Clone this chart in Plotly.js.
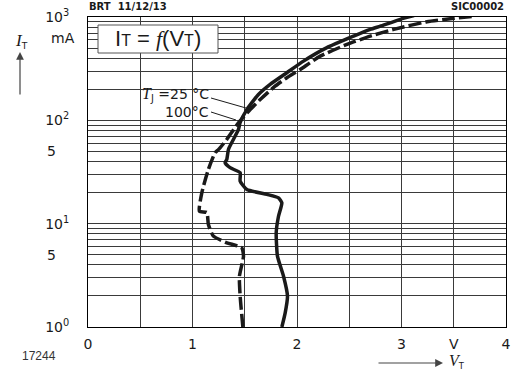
<!DOCTYPE html>
<html>
<head>
<meta charset="utf-8">
<script src="https://cdn.plot.ly/plotly-3.0.1.min.js"></script>
<style>
  html, body { margin: 0; padding: 0; background: #fff; }
  #myChart { width: 513px; height: 371px; }
</style>
</head>
<body>
<div id="myChart"></div>
<script>
// forward characteristic, Tj = 25 °C (solid)
const vt25 = [1.855, 1.887, 1.909, 1.871, 1.813, 1.801, 1.823, 1.855, 1.823, 1.712, 1.52, 1.456, 1.456, 1.36, 1.312, 1.328, 1.344, 1.376, 1.44, 1.456, 1.52, 1.631, 1.743, 1.903, 2.062, 2.286, 2.541, 2.701, 2.797, 2.989, 3.12];
const it25 = [1.0, 1.37, 1.99, 3.1, 4.85, 8.17, 11.8, 15.9, 17.8, 19.2, 21.4, 25.8, 31.1, 34.8, 38.9, 41.8, 52.3, 61, 81.6, 95.4, 127, 178, 223, 289, 374, 505, 653, 759, 816, 950, 1030];

// Tj = 100 °C (dashed)
const vt100 = [1.482, 1.456, 1.449, 1.488, 1.472, 1.329, 1.2, 1.152, 1.137, 1.066, 1.089, 1.152, 1.216, 1.25, 1.328, 1.44, 1.552, 1.648, 1.79, 1.903, 2.031, 2.222, 2.478, 2.701, 2.925, 3.244, 3.467, 3.7];
const it100 = [1.0, 1.99, 3.1, 4.85, 5.84, 6.53, 7.57, 9.8, 12.8, 13.2, 19.9, 33.5, 48.6, 52.3, 65.3, 94.8, 127, 159, 214, 258, 311, 418, 543, 653, 759, 900, 960, 1020];

const xTicks = [0, 0.5, 1, 1.5, 2, 2.5, 3, 3.5, 4];
const xLabels = ['0', '', '1', '', '2', '', '3', 'V', '4'];

const yTicks = [1, 2, 3, 4, 5, 6, 7, 8, 9, 10, 20, 30, 40, 50, 60, 70, 80, 90, 100, 200, 300, 400, 500, 600, 700, 800, 900, 1000];
const yLabels = yTicks.map(v => {
	if (v === 1) return '10<sup>0</sup>';
	if (v === 10) return '10<sup>1</sup>';
	if (v === 100) return '10<sup>2</sup>';
	if (v === 1000) return '10<sup>3</sup>';
	if (v === 5 || v === 50) return '5&nbsp;&nbsp;&nbsp;';
	return ' ';
});

// pixel -> paper helpers for the decorations
const px = x => (x - 88) / 418;
const py = y => (327 - y) / 310;

const INK = '#1a1a1a';
const SANS = 'DejaVu Sans, sans-serif';

function label(x, y, text, opts = {}) {
	return Object.assign({
		xref: 'paper', yref: 'paper', x: px(x), y: py(y),
		xanchor: 'center', yanchor: 'middle', showarrow: false, text: text,
		font: { family: SANS, size: 14, color: INK }
	}, opts);
}

const trace25 = {
	x: vt25,
	y: it25,
	name: '25 °C',
	type: 'scatter',
	mode: 'lines',
	line: { color: INK, width: 3.5, shape: 'spline', smoothing: 0.5 }
};

const trace100 = {
	x: vt100,
	y: it100,
	name: '100 °C',
	type: 'scatter',
	mode: 'lines',
	line: { color: INK, width: 3.5, dash: '13px,4px', shape: 'spline', smoothing: 0.5 }
};

const layout = {
	width: 513,
	height: 371,
	margin: { l: 88, r: 7, t: 17, b: 44 },
	paper_bgcolor: '#fff',
	plot_bgcolor: '#fff',
	showlegend: false,
	font: { family: SANS, size: 14, color: INK },
	xaxis: {
		range: [0, 4],
		tickvals: xTicks,
		ticktext: xLabels,
		ticks: '',
		showgrid: true,
		gridcolor: '#3a3a3a',
		gridwidth: 1,
		zeroline: false,
		showline: true,
		linecolor: '#000',
		linewidth: 1,
		mirror: true,
		ticklabelstandoff: 4
	},
	yaxis: {
		type: 'log',
		range: [0, 3],
		tickvals: yTicks,
		ticktext: yLabels,
		ticks: '',
		showgrid: true,
		gridcolor: '#3a3a3a',
		gridwidth: 1,
		zeroline: false,
		showline: true,
		linecolor: '#000',
		linewidth: 1,
		mirror: true,
		ticklabelstandoff: 15
	},
	shapes: [
		// formula box
		{ type: 'rect', xref: 'paper', yref: 'paper', x0: px(98), x1: px(218), y0: py(53), y1: py(25),
		  fillcolor: '#fff', line: { color: '#555', width: 1 }, layer: 'above' },
		// leader lines
		{ type: 'line', xref: 'paper', yref: 'paper', x0: px(211), y0: py(98), x1: px(246), y1: py(108),
		  line: { color: INK, width: 1 }, layer: 'above' },
		{ type: 'line', xref: 'paper', yref: 'paper', x0: px(211), y0: py(112), x1: px(236), y1: py(120),
		  line: { color: INK, width: 1 }, layer: 'above' }
	],
	annotations: [
		label(158, 39,
			'I<span style="font-size:16px">T</span> = <span style="font-family:Liberation Serif;font-style:italic">f</span>(V<span style="font-size:16px">T</span>)',
			{ font: { family: 'Liberation Sans', size: 22, color: INK } }),
		label(211, 95, '<span style="font-family:Liberation Serif;font-style:italic;font-size:16px">T</span><sub>J</sub> =25 °C',
			{ xanchor: 'right', font: { family: SANS, size: 14, color: INK } }),
		label(211, 112, '100°C', { xanchor: 'right', font: { family: SANS, size: 14, color: INK } }),
		label(87, 6, '<b>BRT  11/12/13</b>', { xanchor: 'left', font: { family: SANS, size: 10, color: INK } }),
		label(506, 6, '<b>SIC00002</b>', { xanchor: 'right', font: { family: SANS, size: 10, color: INK } }),
		label(39, 356, '17244', { font: { family: 'Liberation Sans', size: 12, color: '#333' } }),
		label(63, 38, 'mA'),
		label(21, 41, '<span style="font-family:Liberation Serif;font-style:italic;font-size:17px">I</span><sub>T</sub>',
			{ font: { family: SANS, size: 13, color: INK } }),
		label(457, 362, '<span style="font-family:Liberation Serif;font-style:italic;font-size:16px">V</span><sub>T</sub>',
			{ font: { family: SANS, size: 12, color: INK } }),
		// axis arrows
		{ xref: 'paper', yref: 'paper', x: px(20), y: py(52), text: '', showarrow: true,
		  ax: 0, ay: 44, arrowhead: 2, arrowsize: 1.3, arrowwidth: 1.2, arrowcolor: '#444' },
		{ xref: 'paper', yref: 'paper', x: px(443), y: py(363), text: '', showarrow: true,
		  ax: -66, ay: 0, arrowhead: 2, arrowsize: 1.3, arrowwidth: 1.2, arrowcolor: '#444' }
	]
};

Plotly.newPlot('myChart', [trace25, trace100], layout, { displayModeBar: false, staticPlot: true });
</script>
</body>
</html>
